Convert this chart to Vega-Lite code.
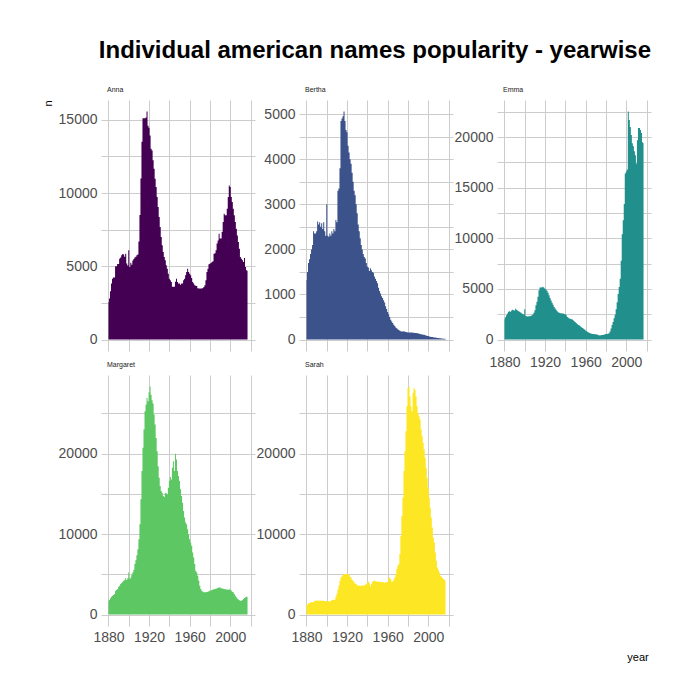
{
"$schema":"https://vega.github.io/schema/vega-lite/v6.json",
"title":{"text":"Individual american names popularity - yearwise","anchor":"end","frame":"bounds","dx":0,"fontSize":24,"fontWeight":"bold","color":"#000000","font":"Liberation Sans","offset":23},
"padding":{"left":42,"top":38,"right":5,"bottom":5},
"spacing":1,
"datasets":{
"anna":[{"year":1880,"n":2570},{"year":1881,"n":2800},{"year":1882,"n":3300},{"year":1883,"n":3820},{"year":1884,"n":4160},{"year":1885,"n":4230},{"year":1886,"n":4230},{"year":1887,"n":5000},{"year":1888,"n":5000},{"year":1889,"n":5160},{"year":1890,"n":5160},{"year":1891,"n":5520},{"year":1892,"n":5600},{"year":1893,"n":5750},{"year":1894,"n":5840},{"year":1895,"n":5800},{"year":1896,"n":5650},{"year":1897,"n":5850},{"year":1898,"n":5200},{"year":1899,"n":5050},{"year":1900,"n":6100},{"year":1901,"n":4950},{"year":1902,"n":5250},{"year":1903,"n":5100},{"year":1904,"n":5400},{"year":1905,"n":5500},{"year":1906,"n":5600},{"year":1907,"n":5650},{"year":1908,"n":5750},{"year":1909,"n":5800},{"year":1910,"n":6700},{"year":1911,"n":8500},{"year":1912,"n":11000},{"year":1913,"n":13500},{"year":1914,"n":15100},{"year":1915,"n":15100},{"year":1916,"n":15100},{"year":1917,"n":15150},{"year":1918,"n":15570},{"year":1919,"n":14600},{"year":1920,"n":14450},{"year":1921,"n":13930},{"year":1922,"n":13020},{"year":1923,"n":12900},{"year":1924,"n":12230},{"year":1925,"n":11660},{"year":1926,"n":10980},{"year":1927,"n":10410},{"year":1928,"n":9730},{"year":1929,"n":9050},{"year":1930,"n":8370},{"year":1931,"n":7680},{"year":1932,"n":7000},{"year":1933,"n":6430},{"year":1934,"n":5980},{"year":1935,"n":5640},{"year":1936,"n":5410},{"year":1937,"n":5070},{"year":1938,"n":4840},{"year":1939,"n":4500},{"year":1940,"n":4160},{"year":1941,"n":4050},{"year":1942,"n":3930},{"year":1943,"n":3600},{"year":1944,"n":3600},{"year":1945,"n":3600},{"year":1946,"n":3950},{"year":1947,"n":4150},{"year":1948,"n":3930},{"year":1949,"n":3820},{"year":1950,"n":3820},{"year":1951,"n":3750},{"year":1952,"n":3820},{"year":1953,"n":3820},{"year":1954,"n":4050},{"year":1955,"n":4160},{"year":1956,"n":4390},{"year":1957,"n":4610},{"year":1958,"n":4840},{"year":1959,"n":4610},{"year":1960,"n":4500},{"year":1961,"n":4390},{"year":1962,"n":4200},{"year":1963,"n":3930},{"year":1964,"n":3820},{"year":1965,"n":3700},{"year":1966,"n":3680},{"year":1967,"n":3650},{"year":1968,"n":3500},{"year":1969,"n":3480},{"year":1970,"n":3480},{"year":1971,"n":3480},{"year":1972,"n":3490},{"year":1973,"n":3520},{"year":1974,"n":3590},{"year":1975,"n":3700},{"year":1976,"n":4050},{"year":1977,"n":4610},{"year":1978,"n":4840},{"year":1979,"n":5140},{"year":1980,"n":5180},{"year":1981,"n":5230},{"year":1982,"n":5300},{"year":1983,"n":5350},{"year":1984,"n":5860},{"year":1985,"n":5900},{"year":1986,"n":6090},{"year":1987,"n":6550},{"year":1988,"n":6770},{"year":1989,"n":7230},{"year":1990,"n":6890},{"year":1991,"n":6890},{"year":1992,"n":7340},{"year":1993,"n":8020},{"year":1994,"n":8590},{"year":1995,"n":8480},{"year":1996,"n":8480},{"year":1997,"n":8930},{"year":1998,"n":9730},{"year":1999,"n":10520},{"year":2000,"n":10410},{"year":2001,"n":9730},{"year":2002,"n":9390},{"year":2003,"n":8930},{"year":2004,"n":8480},{"year":2005,"n":8020},{"year":2006,"n":7570},{"year":2007,"n":7110},{"year":2008,"n":6660},{"year":2009,"n":6200},{"year":2010,"n":5640},{"year":2011,"n":5520},{"year":2012,"n":5410},{"year":2013,"n":5300},{"year":2014,"n":5570},{"year":2015,"n":4950},{"year":2016,"n":4730},{"year":2017,"n":4700}],
"bertha":[{"year":1880,"n":1320},{"year":1881,"n":1500},{"year":1882,"n":1700},{"year":1883,"n":1780},{"year":1884,"n":1900},{"year":1885,"n":2000},{"year":1886,"n":2100},{"year":1887,"n":2400},{"year":1888,"n":2350},{"year":1889,"n":2350},{"year":1890,"n":2400},{"year":1891,"n":2620},{"year":1892,"n":2550},{"year":1893,"n":2600},{"year":1894,"n":2500},{"year":1895,"n":2580},{"year":1896,"n":2450},{"year":1897,"n":2600},{"year":1898,"n":2400},{"year":1899,"n":2300},{"year":1900,"n":3000},{"year":1901,"n":2300},{"year":1902,"n":2280},{"year":1903,"n":2350},{"year":1904,"n":2300},{"year":1905,"n":2400},{"year":1906,"n":2350},{"year":1907,"n":2450},{"year":1908,"n":2400},{"year":1909,"n":2650},{"year":1910,"n":2600},{"year":1911,"n":3300},{"year":1912,"n":3350},{"year":1913,"n":3800},{"year":1914,"n":4850},{"year":1915,"n":4900},{"year":1916,"n":4950},{"year":1917,"n":5060},{"year":1918,"n":4850},{"year":1919,"n":4650},{"year":1920,"n":4600},{"year":1921,"n":4300},{"year":1922,"n":4150},{"year":1923,"n":4000},{"year":1924,"n":3900},{"year":1925,"n":3700},{"year":1926,"n":3500},{"year":1927,"n":3300},{"year":1928,"n":3200},{"year":1929,"n":3000},{"year":1930,"n":2800},{"year":1931,"n":2550},{"year":1932,"n":2400},{"year":1933,"n":2250},{"year":1934,"n":2100},{"year":1935,"n":2000},{"year":1936,"n":1900},{"year":1937,"n":1830},{"year":1938,"n":1800},{"year":1939,"n":1700},{"year":1940,"n":1620},{"year":1941,"n":1600},{"year":1942,"n":1520},{"year":1943,"n":1580},{"year":1944,"n":1540},{"year":1945,"n":1500},{"year":1946,"n":1480},{"year":1947,"n":1400},{"year":1948,"n":1350},{"year":1949,"n":1300},{"year":1950,"n":1250},{"year":1951,"n":1150},{"year":1952,"n":1080},{"year":1953,"n":1020},{"year":1954,"n":960},{"year":1955,"n":920},{"year":1956,"n":870},{"year":1957,"n":820},{"year":1958,"n":740},{"year":1959,"n":680},{"year":1960,"n":610},{"year":1961,"n":560},{"year":1962,"n":500},{"year":1963,"n":440},{"year":1964,"n":400},{"year":1965,"n":370},{"year":1966,"n":330},{"year":1967,"n":300},{"year":1968,"n":270},{"year":1969,"n":250},{"year":1970,"n":230},{"year":1971,"n":210},{"year":1972,"n":195},{"year":1973,"n":185},{"year":1974,"n":180},{"year":1975,"n":180},{"year":1976,"n":185},{"year":1977,"n":175},{"year":1978,"n":170},{"year":1979,"n":165},{"year":1980,"n":160},{"year":1981,"n":160},{"year":1982,"n":158},{"year":1983,"n":155},{"year":1984,"n":155},{"year":1985,"n":152},{"year":1986,"n":150},{"year":1987,"n":148},{"year":1988,"n":145},{"year":1989,"n":140},{"year":1990,"n":138},{"year":1991,"n":130},{"year":1992,"n":125},{"year":1993,"n":120},{"year":1994,"n":115},{"year":1995,"n":110},{"year":1996,"n":105},{"year":1997,"n":95},{"year":1998,"n":88},{"year":1999,"n":82},{"year":2000,"n":78},{"year":2001,"n":70},{"year":2002,"n":65},{"year":2003,"n":60},{"year":2004,"n":55},{"year":2005,"n":52},{"year":2006,"n":48},{"year":2007,"n":45},{"year":2008,"n":40},{"year":2009,"n":36},{"year":2010,"n":33},{"year":2011,"n":30},{"year":2012,"n":28},{"year":2013,"n":25},{"year":2014,"n":23},{"year":2015,"n":20},{"year":2016,"n":18},{"year":2017,"n":17}],
"emma":[{"year":1880,"n":2010},{"year":1881,"n":2210},{"year":1882,"n":2410},{"year":1883,"n":2570},{"year":1884,"n":2740},{"year":1885,"n":2800},{"year":1886,"n":2740},{"year":1887,"n":2870},{"year":1888,"n":2940},{"year":1889,"n":2900},{"year":1890,"n":2870},{"year":1891,"n":3040},{"year":1892,"n":2940},{"year":1893,"n":2870},{"year":1894,"n":2800},{"year":1895,"n":2740},{"year":1896,"n":2670},{"year":1897,"n":2610},{"year":1898,"n":2540},{"year":1899,"n":2480},{"year":1900,"n":3000},{"year":1901,"n":2340},{"year":1902,"n":2310},{"year":1903,"n":2280},{"year":1904,"n":2310},{"year":1905,"n":2310},{"year":1906,"n":2340},{"year":1907,"n":2410},{"year":1908,"n":2480},{"year":1909,"n":2640},{"year":1910,"n":2900},{"year":1911,"n":3400},{"year":1912,"n":3730},{"year":1913,"n":4220},{"year":1914,"n":4880},{"year":1915,"n":5150},{"year":1916,"n":5150},{"year":1917,"n":5180},{"year":1918,"n":5210},{"year":1919,"n":5120},{"year":1920,"n":5020},{"year":1921,"n":4950},{"year":1922,"n":4820},{"year":1923,"n":4620},{"year":1924,"n":4390},{"year":1925,"n":4120},{"year":1926,"n":3860},{"year":1927,"n":3630},{"year":1928,"n":3430},{"year":1929,"n":3230},{"year":1930,"n":3070},{"year":1931,"n":2940},{"year":1932,"n":2800},{"year":1933,"n":2710},{"year":1934,"n":2640},{"year":1935,"n":2610},{"year":1936,"n":2610},{"year":1937,"n":2570},{"year":1938,"n":2570},{"year":1939,"n":2540},{"year":1940,"n":2510},{"year":1941,"n":2410},{"year":1942,"n":2240},{"year":1943,"n":2150},{"year":1944,"n":2080},{"year":1945,"n":2050},{"year":1946,"n":2010},{"year":1947,"n":1980},{"year":1948,"n":1880},{"year":1949,"n":1780},{"year":1950,"n":1720},{"year":1951,"n":1620},{"year":1952,"n":1520},{"year":1953,"n":1450},{"year":1954,"n":1390},{"year":1955,"n":1290},{"year":1956,"n":1230},{"year":1957,"n":1150},{"year":1958,"n":1080},{"year":1959,"n":1000},{"year":1960,"n":900},{"year":1961,"n":830},{"year":1962,"n":740},{"year":1963,"n":690},{"year":1964,"n":640},{"year":1965,"n":600},{"year":1966,"n":570},{"year":1967,"n":550},{"year":1968,"n":540},{"year":1969,"n":530},{"year":1970,"n":520},{"year":1971,"n":500},{"year":1972,"n":470},{"year":1973,"n":440},{"year":1974,"n":400},{"year":1975,"n":420},{"year":1976,"n":450},{"year":1977,"n":460},{"year":1978,"n":480},{"year":1979,"n":520},{"year":1980,"n":540},{"year":1981,"n":560},{"year":1982,"n":580},{"year":1983,"n":620},{"year":1984,"n":800},{"year":1985,"n":1100},{"year":1986,"n":1450},{"year":1987,"n":1750},{"year":1988,"n":2100},{"year":1989,"n":2450},{"year":1990,"n":3000},{"year":1991,"n":3700},{"year":1992,"n":4500},{"year":1993,"n":5200},{"year":1994,"n":6000},{"year":1995,"n":7800},{"year":1996,"n":10400},{"year":1997,"n":11800},{"year":1998,"n":13400},{"year":1999,"n":16400},{"year":2000,"n":16600},{"year":2001,"n":16800},{"year":2002,"n":22540},{"year":2003,"n":21700},{"year":2004,"n":21000},{"year":2005,"n":20200},{"year":2006,"n":19400},{"year":2007,"n":19100},{"year":2008,"n":18600},{"year":2009,"n":18200},{"year":2010,"n":17400},{"year":2011,"n":19700},{"year":2012,"n":20900},{"year":2013,"n":20900},{"year":2014,"n":20700},{"year":2015,"n":20400},{"year":2016,"n":19500},{"year":2017,"n":19400}],
"margaret":[{"year":1880,"n":1610},{"year":1881,"n":1810},{"year":1882,"n":2020},{"year":1883,"n":2230},{"year":1884,"n":2350},{"year":1885,"n":2430},{"year":1886,"n":2560},{"year":1887,"n":2970},{"year":1888,"n":3050},{"year":1889,"n":3180},{"year":1890,"n":3460},{"year":1891,"n":3590},{"year":1892,"n":3790},{"year":1893,"n":3920},{"year":1894,"n":4080},{"year":1895,"n":4210},{"year":1896,"n":4290},{"year":1897,"n":4540},{"year":1898,"n":4290},{"year":1899,"n":4500},{"year":1900,"n":5240},{"year":1901,"n":4410},{"year":1902,"n":4620},{"year":1903,"n":4950},{"year":1904,"n":5240},{"year":1905,"n":5570},{"year":1906,"n":6270},{"year":1907,"n":6760},{"year":1908,"n":7380},{"year":1909,"n":8120},{"year":1910,"n":9360},{"year":1911,"n":11220},{"year":1912,"n":14310},{"year":1913,"n":17820},{"year":1914,"n":20700},{"year":1915,"n":22970},{"year":1916,"n":25240},{"year":1917,"n":26060},{"year":1918,"n":26890},{"year":1919,"n":26480},{"year":1920,"n":27600},{"year":1921,"n":28330},{"year":1922,"n":27300},{"year":1923,"n":26600},{"year":1924,"n":26200},{"year":1925,"n":24830},{"year":1926,"n":23590},{"year":1927,"n":21940},{"year":1928,"n":20290},{"year":1929,"n":18430},{"year":1930,"n":16990},{"year":1931,"n":15960},{"year":1932,"n":15340},{"year":1933,"n":15140},{"year":1934,"n":14720},{"year":1935,"n":14600},{"year":1936,"n":15140},{"year":1937,"n":15050},{"year":1938,"n":14930},{"year":1939,"n":15750},{"year":1940,"n":16580},{"year":1941,"n":17070},{"year":1942,"n":16780},{"year":1943,"n":18230},{"year":1944,"n":19050},{"year":1945,"n":17820},{"year":1946,"n":19960},{"year":1947,"n":19260},{"year":1948,"n":17820},{"year":1949,"n":17200},{"year":1950,"n":16580},{"year":1951,"n":15550},{"year":1952,"n":14720},{"year":1953,"n":13900},{"year":1954,"n":12870},{"year":1955,"n":12040},{"year":1956,"n":11420},{"year":1957,"n":11220},{"year":1958,"n":10600},{"year":1959,"n":9980},{"year":1960,"n":9360},{"year":1961,"n":8950},{"year":1962,"n":8540},{"year":1963,"n":7710},{"year":1964,"n":7090},{"year":1965,"n":6270},{"year":1966,"n":5440},{"year":1967,"n":5240},{"year":1968,"n":4830},{"year":1969,"n":4210},{"year":1970,"n":3590},{"year":1971,"n":3180},{"year":1972,"n":2970},{"year":1973,"n":2850},{"year":1974,"n":2760},{"year":1975,"n":2760},{"year":1976,"n":2760},{"year":1977,"n":2800},{"year":1978,"n":2850},{"year":1979,"n":2900},{"year":1980,"n":2950},{"year":1981,"n":3000},{"year":1982,"n":3050},{"year":1983,"n":3100},{"year":1984,"n":3150},{"year":1985,"n":3180},{"year":1986,"n":3220},{"year":1987,"n":3280},{"year":1988,"n":3300},{"year":1989,"n":3380},{"year":1990,"n":3350},{"year":1991,"n":3260},{"year":1992,"n":3230},{"year":1993,"n":3200},{"year":1994,"n":3180},{"year":1995,"n":3150},{"year":1996,"n":3120},{"year":1997,"n":3100},{"year":1998,"n":3090},{"year":1999,"n":3120},{"year":2000,"n":3130},{"year":2001,"n":3000},{"year":2002,"n":2850},{"year":2003,"n":2760},{"year":2004,"n":2550},{"year":2005,"n":2350},{"year":2006,"n":2140},{"year":2007,"n":2000},{"year":2008,"n":1880},{"year":2009,"n":1780},{"year":2010,"n":1730},{"year":2011,"n":1730},{"year":2012,"n":1800},{"year":2013,"n":1940},{"year":2014,"n":2050},{"year":2015,"n":2140},{"year":2016,"n":2200},{"year":2017,"n":2230}],
"sarah":[{"year":1880,"n":1240},{"year":1881,"n":1250},{"year":1882,"n":1400},{"year":1883,"n":1400},{"year":1884,"n":1520},{"year":1885,"n":1530},{"year":1886,"n":1530},{"year":1887,"n":1540},{"year":1888,"n":1730},{"year":1889,"n":1730},{"year":1890,"n":1740},{"year":1891,"n":1720},{"year":1892,"n":1750},{"year":1893,"n":1730},{"year":1894,"n":1720},{"year":1895,"n":1730},{"year":1896,"n":1720},{"year":1897,"n":1730},{"year":1898,"n":1700},{"year":1899,"n":1650},{"year":1900,"n":1700},{"year":1901,"n":1640},{"year":1902,"n":1650},{"year":1903,"n":1640},{"year":1904,"n":1700},{"year":1905,"n":1800},{"year":1906,"n":1820},{"year":1907,"n":1830},{"year":1908,"n":1850},{"year":1909,"n":2250},{"year":1910,"n":2600},{"year":1911,"n":3100},{"year":1912,"n":3600},{"year":1913,"n":4200},{"year":1914,"n":4600},{"year":1915,"n":4750},{"year":1916,"n":4950},{"year":1917,"n":5000},{"year":1918,"n":5050},{"year":1919,"n":5070},{"year":1920,"n":5050},{"year":1921,"n":5030},{"year":1922,"n":4950},{"year":1923,"n":4700},{"year":1924,"n":4600},{"year":1925,"n":4300},{"year":1926,"n":4200},{"year":1927,"n":4000},{"year":1928,"n":3850},{"year":1929,"n":3790},{"year":1930,"n":3650},{"year":1931,"n":3600},{"year":1932,"n":3590},{"year":1933,"n":3580},{"year":1934,"n":3590},{"year":1935,"n":3600},{"year":1936,"n":3600},{"year":1937,"n":3620},{"year":1938,"n":3700},{"year":1939,"n":3800},{"year":1940,"n":4000},{"year":1941,"n":4120},{"year":1942,"n":3900},{"year":1943,"n":3510},{"year":1944,"n":3800},{"year":1945,"n":4080},{"year":1946,"n":4210},{"year":1947,"n":4200},{"year":1948,"n":4150},{"year":1949,"n":4100},{"year":1950,"n":4080},{"year":1951,"n":4080},{"year":1952,"n":4080},{"year":1953,"n":4060},{"year":1954,"n":4050},{"year":1955,"n":4000},{"year":1956,"n":4000},{"year":1957,"n":3950},{"year":1958,"n":4000},{"year":1959,"n":4000},{"year":1960,"n":4050},{"year":1961,"n":4540},{"year":1962,"n":4620},{"year":1963,"n":4410},{"year":1964,"n":4120},{"year":1965,"n":4120},{"year":1966,"n":4290},{"year":1967,"n":4620},{"year":1968,"n":5030},{"year":1969,"n":5650},{"year":1970,"n":6060},{"year":1971,"n":6270},{"year":1972,"n":7510},{"year":1973,"n":9770},{"year":1974,"n":12250},{"year":1975,"n":14520},{"year":1976,"n":17820},{"year":1977,"n":20290},{"year":1978,"n":22760},{"year":1979,"n":25860},{"year":1980,"n":28130},{"year":1981,"n":28330},{"year":1982,"n":27090},{"year":1983,"n":25860},{"year":1984,"n":25240},{"year":1985,"n":27510},{"year":1986,"n":28130},{"year":1987,"n":27920},{"year":1988,"n":27090},{"year":1989,"n":25860},{"year":1990,"n":25030},{"year":1991,"n":24620},{"year":1992,"n":24210},{"year":1993,"n":22970},{"year":1994,"n":22150},{"year":1995,"n":21320},{"year":1996,"n":20500},{"year":1997,"n":19470},{"year":1998,"n":18230},{"year":1999,"n":16990},{"year":2000,"n":15750},{"year":2001,"n":14520},{"year":2002,"n":13280},{"year":2003,"n":12040},{"year":2004,"n":10800},{"year":2005,"n":9570},{"year":2006,"n":8950},{"year":2007,"n":7710},{"year":2008,"n":6680},{"year":2009,"n":5860},{"year":2010,"n":5530},{"year":2011,"n":5240},{"year":2012,"n":4830},{"year":2013,"n":4700},{"year":2014,"n":4540},{"year":2015,"n":4410},{"year":2016,"n":4290},{"year":2017,"n":4210}]
},
"hconcat":[
{"spacing":10,"vconcat":[
{"data":{"name":"anna"},"width":154,"height":251,
"title":{"text":"Anna"},
"mark":{"type":"area","interpolate":"step","color":"#440154"},
"encoding":{
"x":{"field":"year","type":"quantitative","scale":{"domain":[1872.65,2024.35],"nice":false,"zero":false},"axis":{"values":[1880,1900,1920,1940,1960,1980,2000,2020],"labels":false,"title":null}},
"y":{"field":"n","type":"quantitative","scale":{"domain":[-778.5,16348.5],"nice":false,"zero":false},"axis":{"values":[0,2500,5000,7500,10000,12500,15000],"format":"d","labelExpr":"datum.value % 5000 === 0 ? datum.label : ''","title":"n","titleX":-52.7,"titleY":3,"titleAngle":270,"titleAlign":"center","titleBaseline":"middle","titleFontSize":11,"titleFontWeight":"normal","titleColor":"#000000"}},
"y2":{"datum":0}}},
{"data":{"name":"margaret"},"width":154,"height":251,
"title":{"text":"Margaret"},
"mark":{"type":"area","interpolate":"step","color":"#5DC863"},
"encoding":{
"x":{"field":"year","type":"quantitative","scale":{"domain":[1872.65,2024.35],"nice":false,"zero":false},"axis":{"values":[1880,1900,1920,1940,1960,1980,2000,2020],"format":"d","labelExpr":"(datum.value - 1880) % 40 === 0 ? datum.label : ''","title":null}},
"y":{"field":"n","type":"quantitative","scale":{"domain":[-1416.5,29746.5],"nice":false,"zero":false},"axis":{"values":[0,5000,10000,15000,20000,25000],"format":"d","labelExpr":"datum.value % 10000 === 0 ? datum.label : ''","title":null}},
"y2":{"datum":0}}}
]},
{"spacing":10,"vconcat":[
{"data":{"name":"bertha"},"width":154,"height":251,
"title":{"text":"Bertha"},
"mark":{"type":"area","interpolate":"step","color":"#3B528B"},
"encoding":{
"x":{"field":"year","type":"quantitative","scale":{"domain":[1872.65,2024.35],"nice":false,"zero":false},"axis":{"values":[1880,1900,1920,1940,1960,1980,2000,2020],"labels":false,"title":null}},
"y":{"field":"n","type":"quantitative","scale":{"domain":[-253,5313],"nice":false,"zero":false},"axis":{"values":[0,500,1000,1500,2000,2500,3000,3500,4000,4500,5000],"format":"d","labelExpr":"datum.value % 1000 === 0 ? datum.label : ''","title":null}},
"y2":{"datum":0}}},
{"data":{"name":"sarah"},"width":154,"height":251,
"title":{"text":"Sarah"},
"mark":{"type":"area","interpolate":"step","color":"#FDE725"},
"encoding":{
"x":{"field":"year","type":"quantitative","scale":{"domain":[1872.65,2024.35],"nice":false,"zero":false},"axis":{"values":[1880,1900,1920,1940,1960,1980,2000,2020],"format":"d","labelExpr":"(datum.value - 1880) % 40 === 0 ? datum.label : ''","title":null}},
"y":{"field":"n","type":"quantitative","scale":{"domain":[-1416.5,29746.5],"nice":false,"zero":false},"axis":{"values":[0,5000,10000,15000,20000,25000],"format":"d","labelExpr":"datum.value % 10000 === 0 ? datum.label : ''","title":null}},
"y2":{"datum":0}}}
]},
{"data":{"name":"emma"},"width":154,"height":251,
"title":{"text":"Emma"},
"mark":{"type":"area","interpolate":"step","color":"#21908C"},
"encoding":{
"x":{"field":"year","type":"quantitative","scale":{"domain":[1872.65,2024.35],"nice":false,"zero":false},"axis":{"values":[1880,1900,1920,1940,1960,1980,2000,2020],"format":"d","labelExpr":"(datum.value - 1880) % 40 === 0 ? datum.label : ''","title":"year","titleX":140.5,"titleY":306,"titleAlign":"center","titleBaseline":"middle","titleFontSize":11,"titleFontWeight":"normal","titleColor":"#000000"}},
"y":{"field":"n","type":"quantitative","scale":{"domain":[-1127,23667],"nice":false,"zero":false},"axis":{"values":[0,2500,5000,7500,10000,12500,15000,17500,20000,22500],"format":"d","labelExpr":"datum.value % 5000 === 0 ? datum.label : ''","title":null}},
"y2":{"datum":0}}}
],
"config":{
"font":"Liberation Sans",
"view":{"stroke":null},
"background":"#ffffff",
"axis":{"domain":false,"ticks":false,"grid":true,"gridColor":"#cccccc","gridWidth":1,"labelColor":"#4d4d4d","labelFontSize":14,"labelFont":"Liberation Sans","labelPadding":4,"labelFlush":false,"labelOverlap":false},
"title":{"anchor":"start","frame":"group","fontSize":7,"fontWeight":"normal","color":"#1a1a1a","offset":7,"dx":6}
}
}
